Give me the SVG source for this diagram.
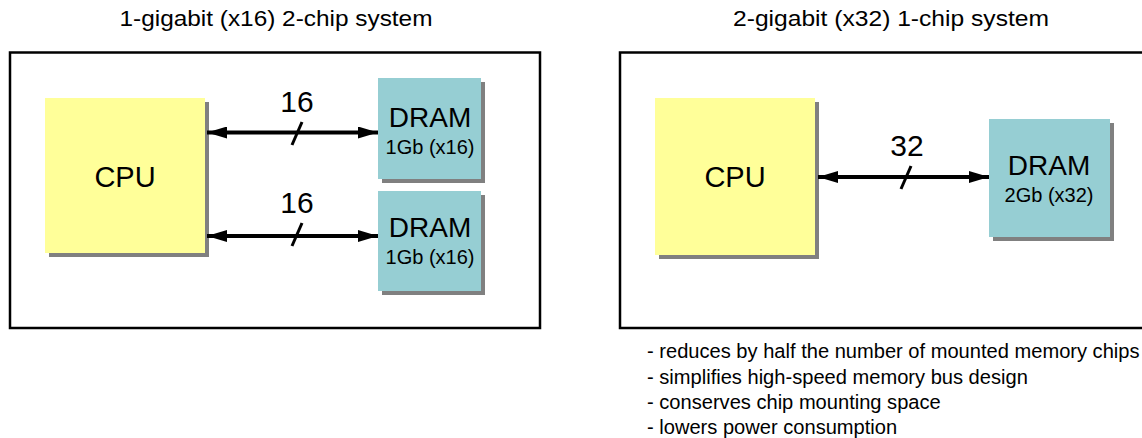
<svg xmlns="http://www.w3.org/2000/svg" width="1142" height="438" viewBox="0 0 1142 438">
<style>
text{font-family:"Liberation Sans",Arial,sans-serif;fill:#000}
.frame{fill:#fff;stroke:#000;stroke-width:2.5}
.shadow{fill:#808080}
.cpu{fill:#FFFF99}
.dram{fill:#96CED3}
.title{font-size:22px;text-anchor:middle}
.cpuT{font-size:29px;text-anchor:middle}
.dT{font-size:28px;text-anchor:middle}
.dS{font-size:20px;text-anchor:middle}
.lbl{font-size:30px;text-anchor:middle}
.bus{stroke:#000;stroke-width:4;fill:none;marker-start:url(#ah);marker-end:url(#ah)}
.slash{stroke:#000;stroke-width:3}
.bul{font-size:20.1px}
</style>
<defs>
<marker id="ah" viewBox="0 0 20 12" refX="20" refY="6" markerWidth="20" markerHeight="12" markerUnits="userSpaceOnUse" orient="auto-start-reverse">
<path d="M0,0 L20,6 L0,12 Z" fill="#000"/>
</marker>
</defs>
<text class="title" x="276" y="26" textLength="313" lengthAdjust="spacingAndGlyphs">1-gigabit (x16) 2-chip system</text>
<text class="title" x="891" y="26" textLength="316" lengthAdjust="spacingAndGlyphs">2-gigabit (x32) 1-chip system</text>
<rect id="frame-left" class="frame" x="10" y="52.5" width="530" height="275.5"/>
<rect id="frame-right" class="frame" x="620" y="52.5" width="540" height="275.5"/>
<g id="cpu-left">
<rect class="shadow" x="49" y="102" width="160" height="155"/>
<rect class="cpu" x="45" y="98" width="160" height="155"/>
<text class="cpuT" x="125" y="187">CPU</text>
</g>
<g id="dram-left-1">
<rect class="shadow" x="382" y="82" width="103" height="101"/>
<rect class="dram" x="378" y="78" width="103" height="101"/>
<text class="dT" x="430" y="127">DRAM</text>
<text class="dS" x="430" y="154">1Gb (x16)</text>
</g>
<g id="dram-left-2">
<rect class="shadow" x="382" y="195" width="103" height="100"/>
<rect class="dram" x="378" y="191" width="103" height="100"/>
<text class="dT" x="430" y="237">DRAM</text>
<text class="dS" x="430" y="264">1Gb (x16)</text>
</g>
<g id="cpu-right">
<rect class="shadow" x="659" y="102" width="160" height="157"/>
<rect class="cpu" x="655" y="98" width="160" height="157"/>
<text class="cpuT" x="735" y="187">CPU</text>
</g>
<g id="dram-right">
<rect class="shadow" x="993" y="123" width="121" height="118"/>
<rect class="dram" x="989" y="119" width="121" height="118"/>
<text class="dT" x="1049" y="175">DRAM</text>
<text class="dS" x="1049" y="202">2Gb (x32)</text>
</g>
<g id="connectors">
<line class="bus" x1="207" y1="132.5" x2="378" y2="132.5"/>
<line class="slash" x1="292" y1="145" x2="302" y2="122"/>
<text class="lbl" x="297" y="112">16</text>
<line class="bus" x1="207" y1="236" x2="378" y2="236"/>
<line class="slash" x1="292" y1="246" x2="302" y2="223"/>
<text class="lbl" x="297" y="213">16</text>
<line class="bus" x1="818" y1="177" x2="989" y2="177"/>
<line class="slash" x1="901" y1="189" x2="911" y2="166"/>
<text class="lbl" x="907" y="156">32</text>
</g>
<g id="notes">
<text class="bul" x="647" y="358">- reduces by half the number of mounted memory chips</text>
<text class="bul" x="647" y="383.5">- simplifies high-speed memory bus design</text>
<text class="bul" x="647" y="409">- conserves chip mounting space</text>
<text class="bul" x="647" y="434">- lowers power consumption</text>
</g>
</svg>
